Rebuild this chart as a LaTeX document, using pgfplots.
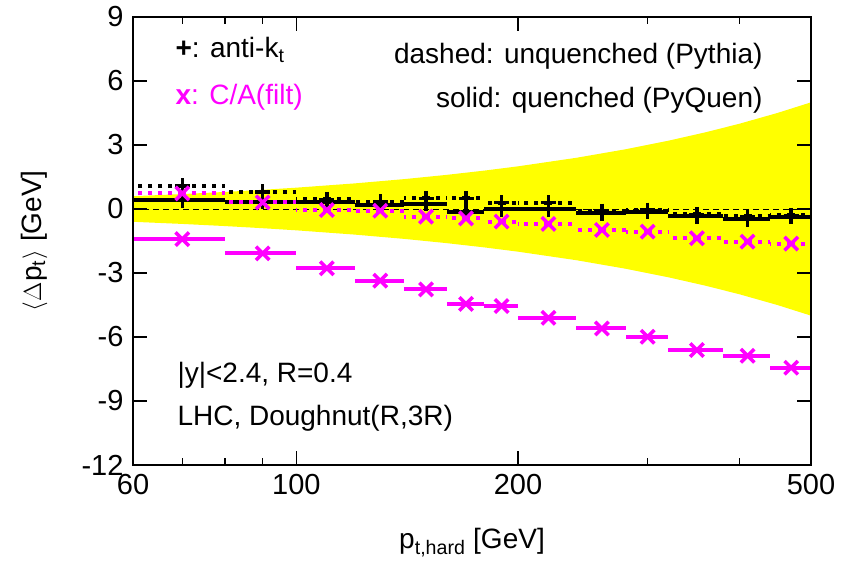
\documentclass[border=0pt]{standalone}
\usepackage{pgfplots}
\pgfplotsset{compat=1.18}
\usepackage{pgfplotstable}
\usepackage{fontspec}
\setmainfont{Liberation Sans}
\definecolor{mag}{RGB}{255,0,255}
\definecolor{yel}{RGB}{255,255,0}

% bin centre, mean shift, half bin width
\pgfplotstableread{
x    y      e
70   1.10   10
90   0.80   10
110  0.45   10
130  0.35   10
150  0.50   10
170  0.50   10
190  0.30   10
220  0.30   20
260  -0.10  20
300  -0.05  20
350  -0.25  30
410  -0.35  30
470  -0.30  30
}\aktunq
\pgfplotstableread{
x    y      e
70   0.40   10
90   0.35   10
110  0.35   10
130  0.20   10
150  0.25   10
170  -0.15  10
190  -0.02  10
220  -0.02  20
260  -0.20  20
300  -0.12  20
350  -0.33  30
410  -0.48  30
470  -0.36  30
}\aktq
\pgfplotstableread{
x    y      e
70   0.73   10
90   0.31   10
110  -0.05  10
130  -0.08  10
150  -0.36  10
170  -0.44  10
190  -0.59  10
220  -0.70  20
260  -0.98  20
300  -1.06  20
350  -1.37  30
410  -1.53  30
470  -1.62  30
}\caunq
\pgfplotstableread{
x    y      e
70   -1.41  10
90   -2.08  10
110  -2.78  10
130  -3.36  10
150  -3.77  10
170  -4.45  10
190  -4.55  10
220  -5.10  20
260  -5.60  20
300  -5.99  20
350  -6.61  30
410  -6.88  30
470  -7.44  30
}\caq

\begin{document}
\fontsize{28}{34}\selectfont
\begin{tikzpicture}
\begin{axis}[
  name=ax,
  scale only axis,
  width=678pt, height=448pt,
  xmode=log,
  xmin=60, xmax=500,
  ymin=-12, ymax=9,
  xtick={60,100,200,500},
  xticklabels={60,100,200,500},
  minor xtick={70,80,90,300,400},
  ytick={-12,-9,-6,-3,0,3,6,9},
  yticklabels={-12,-9,-6,-3,0,3,6,9},
  tick label style={font=\fontsize{29}{34}\selectfont},
  major tick length=14pt,
  minor tick length=7pt,
  every tick/.style={black, line width=1.5pt},
  axis line style={line width=1.5pt},
  axis on top,
  /pgf/number format/assume math mode=true,
  xlabel={p\textsubscript{t,hard} [GeV]},
  ylabel={$\langle$\kern1pt$\Delta$p\textsubscript{t}\kern1pt$\rangle$ [GeV]},
  every axis x label/.style={at={(axis description cs:0.5,-0.187)}, anchor=base},
  every axis y label/.style={at={(axis description cs:-0.1357,0.5)}, rotate=90, anchor=base},
  clip=true,
]
% +-1% of p_t band
\addplot[fill=yel, draw=none] coordinates {
  (60,0.6) (70,0.7) (80,0.8) (90,0.9) (100,1.0) (120,1.2) (140,1.4) (160,1.6)
  (180,1.8) (200,2.0) (240,2.4) (280,2.8) (320,3.2) (360,3.6) (400,4.0)
  (450,4.5) (500,5.0)
  (500,-5.0) (450,-4.5) (400,-4.0) (360,-3.6) (320,-3.2) (280,-2.8) (240,-2.4)
  (200,-2.0) (180,-1.8) (160,-1.6) (140,-1.4) (120,-1.2) (100,-1.0) (90,-0.9)
  (80,-0.8) (70,-0.7) (60,-0.6)
} \closedcycle;
\addplot[black, line width=1pt, dash pattern=on 6pt off 4pt] coordinates {(60,0) (500,0)};

% anti-kt, unquenched
\addplot[black, only marks, mark=+, mark size=7.5pt, mark options={line width=3.5pt, solid},
  error bars/.cd, x dir=both, x explicit, error mark=none,
  error bar style={line width=4pt, black, dash pattern=on 4pt off 6pt}]
  table[x=x, y=y, x error=e] {\aktunq};
% anti-kt, quenched
\addplot[black, only marks, mark=+, mark size=7.5pt, mark options={line width=3.5pt, solid},
  error bars/.cd, x dir=both, x explicit, error mark=none,
  error bar style={line width=4pt, black, solid}]
  table[x=x, y=y, x error=e] {\aktq};
% C/A(filt), unquenched
\addplot[mag, only marks, mark=x, mark size=9.5pt, mark options={line width=3.5pt, solid},
  error bars/.cd, x dir=both, x explicit, error mark=none,
  error bar style={line width=4pt, mag, dash pattern=on 4pt off 6pt}]
  table[x=x, y=y, x error=e] {\caunq};
% C/A(filt), quenched
\addplot[mag, only marks, mark=x, mark size=9.5pt, mark options={line width=3.5pt, solid},
  error bars/.cd, x dir=both, x explicit, error mark=none,
  error bar style={line width=4pt, mag, solid}]
  table[x=x, y=y, x error=e] {\caq};

\node[anchor=base west] at (axis description cs:0.0487,0.9085) {\textbf{+}: anti-k\textsubscript{t}};
\node[anchor=base west, text=mag] at (axis description cs:0.0487,0.8036) {\textbf{x}: C/A(filt)};
\node[anchor=base east] at (axis description cs:0.9425,0.897) {dashed: unquenched (Pythia)};
\node[anchor=base east] at (axis description cs:0.9425,0.799) {solid: quenched (PyQuen)};
\node[anchor=base west] at (axis description cs:0.0516,0.185) {|y|<2.4, R=0.4};
\node[anchor=base west] at (axis description cs:0.0516,0.0893) {LHC, Doughnut(R,3R)};
\end{axis}
\pgfresetboundingbox
\path ([shift={(-133pt,-95pt)}]ax.south west) rectangle ([shift={(32pt,17pt)}]ax.north east);
\end{tikzpicture}
\end{document}
